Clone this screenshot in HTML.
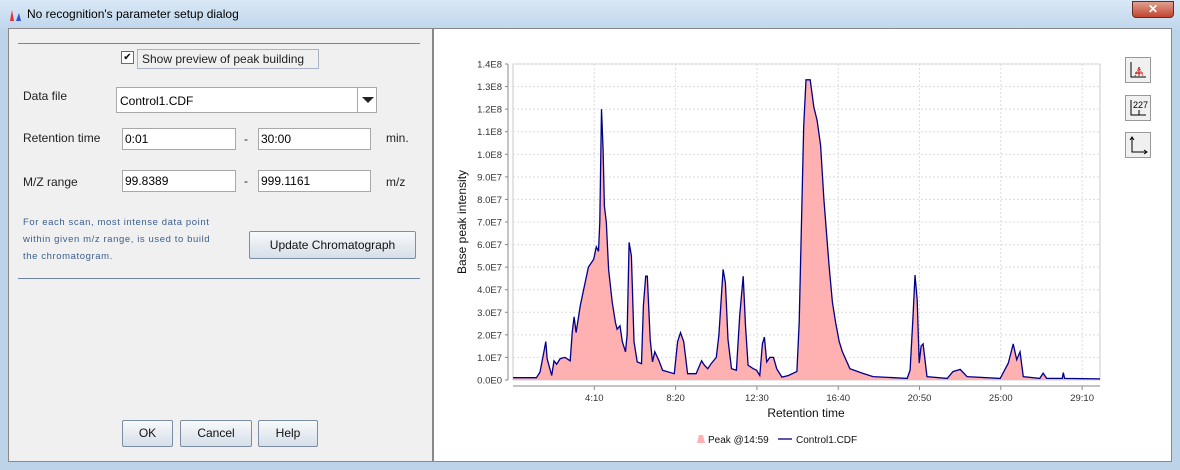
<!DOCTYPE html>
<html><head><meta charset="utf-8">
<style>
*{box-sizing:border-box}
body{margin:0;width:1180px;height:470px;overflow:hidden;font-family:"Liberation Sans",sans-serif;background:#bcd3e8;position:relative}
.abs{position:absolute}
#titlebar{left:0;top:0;width:1180px;height:30px;background:linear-gradient(#d9e8f6,#bfd6ec);}
#title{left:27px;top:7px;font-size:12px;color:#000}
#close{left:1132px;top:1px;width:42px;height:17px;border-radius:0 0 4px 4px;background:linear-gradient(#e0a090,#c2452f);border:1px solid #6b2a20;color:#fff;font-weight:bold;font-size:12px;text-align:center;line-height:15px}
#left{left:8px;top:28px;width:425px;height:434px;background:#f0f0f0;border:1px solid #888}
#right{left:433px;top:28px;width:739px;height:434px;background:#fff;border:1px solid #888}
.sep{height:1px;background:#6d86a8;left:18px;width:402px}
.lbl{font-size:12px;color:#222}
.inp{background:#fff;border:1px solid #a8a8a8;font-size:12px;padding:2px 2px;height:22px;line-height:16px}
.btn{border:1px solid #7b8ea6;border-radius:2px;background:linear-gradient(#f8fafc,#d6dee8);font-size:12px;text-align:center;color:#111}
.blue{font-size:9.5px;color:#3a5f8f;letter-spacing:0.6px}
.ib{width:26px;height:26px;border:1px solid #999;background:#f0f0f0}
</style></head><body>
<div class="abs" id="titlebar"></div>
<svg class="abs" style="left:9px;top:9px" width="14" height="12"><path d="M1 12 L3 1 L5 12Z" fill="#e03030"/><path d="M7 12 L10 4 L12 12Z" fill="#3050e0"/></svg>
<div class="abs" id="title">No recognition's parameter setup dialog</div>
<div class="abs" id="close">✕</div>

<div class="abs" id="left"></div>
<div class="abs sep" style="top:43px"></div>
<div class="abs" style="left:121px;top:51px;width:13px;height:13px;border:1px solid #5a6e8a;background:#fff;font-size:10px;line-height:11px;text-align:center">✔</div>
<div class="abs lbl" style="left:137px;top:49px;width:182px;height:20px;border:1px solid #a8b4c4;padding:2px 4px">Show preview of peak building</div>
<div class="abs lbl" style="left:23px;top:89px">Data file</div>
<div class="abs inp" style="left:116px;top:87px;width:261px;height:26px;padding:5px 3px">Control1.CDF</div>
<div class="abs" style="left:357px;top:88px;width:19px;height:24px;border-left:1px solid #a8a8a8;background:#fff"><div style="margin:9px 0 0 4px;width:0;height:0;border-left:6px solid transparent;border-right:6px solid transparent;border-top:6px solid #222"></div></div>
<div class="abs lbl" style="left:23px;top:131px">Retention time</div>
<div class="abs inp" style="left:122px;top:128px;width:114px">0:01</div>
<div class="abs lbl" style="left:244px;top:132px">-</div>
<div class="abs inp" style="left:258px;top:128px;width:113px">30:00</div>
<div class="abs lbl" style="left:386px;top:131px">min.</div>
<div class="abs lbl" style="left:23px;top:175px">M/Z range</div>
<div class="abs inp" style="left:122px;top:170px;width:114px">99.8389</div>
<div class="abs lbl" style="left:244px;top:174px">-</div>
<div class="abs inp" style="left:258px;top:170px;width:113px">999.1161</div>
<div class="abs lbl" style="left:386px;top:175px">m/z</div>
<div class="abs blue" style="left:23px;top:214px;line-height:17px">For each scan, most intense data point<br>within given m/z range, is used to build<br>the chromatogram.</div>
<div class="abs btn" style="left:249px;top:231px;width:167px;height:28px;line-height:26px">Update Chromatograph</div>
<div class="abs sep" style="top:278px"></div>
<div class="abs btn" style="left:122px;top:420px;width:51px;height:27px;line-height:25px">OK</div>
<div class="abs btn" style="left:180px;top:420px;width:72px;height:27px;line-height:25px">Cancel</div>
<div class="abs btn" style="left:258px;top:420px;width:60px;height:27px;line-height:25px">Help</div>

<div class="abs" id="right"></div>
<div class="abs ib" style="left:1125px;top:57px"><svg width="24" height="24"><path d="M5 4V19H20" stroke="#000" fill="none"/><path d="M9 18L13 9L17 18" stroke="#c00" fill="none" stroke-dasharray="1 1"/><path d="M13 9V18M9 15H17" stroke="#c00"/></svg></div>
<div class="abs ib" style="left:1125px;top:95px"><svg width="24" height="24"><path d="M5 4V19H20M13 14V19" stroke="#000" fill="none"/><text x="7" y="12" font-size="9" font-family="Liberation Sans">227</text></svg></div>
<div class="abs ib" style="left:1125px;top:132px"><svg width="24" height="24"><path d="M6 4V19H21M4 7L6 4L8 7M18 17L21 19L18 21" stroke="#000" fill="none"/></svg></div>

<svg class="abs" id="chart" style="left:0;top:0" width="1180" height="470"></svg>
<script>
const times=[0,72,83,95,101,105,119,126,134,145,160,176,182,188,194,207,217,232,248,256,263,267,272,277,281,287,294,305,315,320,329,336,346,351,357,364,372,382,395,401,408,413,422,429,436,444,449,460,496,506,515,525,537,563,580,589,599,609,625,633,646,653,661,672,687,697,708,715,723,739,749,759,767,773,780,790,801,811,827,847,873,880,887,894,901,914,925,935,946,956,972,982,992,1003,1013,1036,1075,1107,1212,1221,1230,1236,1243,1249,1255,1261,1273,1335,1353,1375,1396,1498,1523,1538,1549,1559,1569,1620,1630,1641,1689,1692,1696,1805];
const intensities=[0.1,0.1,0.35,1.25,1.7,0.95,0.2,0.85,0.7,0.95,1.0,0.85,2.1,2.8,2.1,3.3,4.0,5.0,5.35,5.9,5.7,7.0,12.0,10.2,7.7,7.0,4.9,3.45,2.55,2.25,2.4,1.7,1.25,2.0,6.1,5.5,1.7,0.8,0.72,3.3,4.6,4.6,1.8,0.8,1.25,1.0,0.85,0.43,0.28,1.7,2.1,1.7,0.28,0.28,0.85,0.65,0.5,0.72,1.0,2.0,4.9,4.3,1.8,0.5,0.43,2.85,4.6,2.4,0.65,0.5,0.43,0.2,1.6,1.9,0.8,1.0,1.0,0.5,0.13,0.2,0.38,2.55,7.0,11.25,13.3,13.3,12.1,11.5,10.4,8.0,5.05,3.45,2.55,1.7,1.25,0.5,0.3,0.15,0.07,0.44,2.8,4.65,3.55,0.75,1.5,1.6,0.15,0.07,0.37,0.47,0.15,0.07,0.75,1.6,0.9,1.25,0.15,0.07,0.3,0.07,0.07,0.33,0.07,0.05];
const yTicks=[0,1,2,3,4,5,6,7,8,9,10,11,12,13,14];
const yTickLabels=["0.0E0","1.0E7","2.0E7","3.0E7","4.0E7","5.0E7","6.0E7","7.0E7","8.0E7","9.0E7","1.0E8","1.1E8","1.2E8","1.3E8","1.4E8"];
const xTicks=[250,500,750,1000,1250,1500,1750];
const xTickLabels=["4:10","8:20","12:30","16:40","20:50","25:00","29:10"];
const X0=513,X1=1100,Y0=380,Y1=64,TMAX=1805,VMAX=14;
const sx=t=>X0+t/TMAX*(X1-X0);
const sy=v=>Y0-v/VMAX*(Y0-Y1);
const svg=document.getElementById('chart');
const NS='http://www.w3.org/2000/svg';
function mk(tag,attrs,parent){const e=document.createElementNS(NS,tag);for(const k in attrs)e.setAttribute(k,attrs[k]);(parent||svg).appendChild(e);return e;}
const plot=mk('rect',{x:X0,y:Y1,width:X1-X0,height:Y0-Y1,fill:'#fff',stroke:'#c8c8c8'});


yTicks.forEach((v,i)=>{
  const g=mk('line',{x1:X0,x2:X1,y1:sy(v),y2:sy(v),stroke:'#dcdcdc','stroke-dasharray':'2 2'});
  
  
  mk('line',{x1:505,x2:508,y1:sy(v),y2:sy(v),stroke:'#888'});
  const t=mk('text',{x:502,y:sy(v)+3.5,'text-anchor':'end','font-size':'9.5','font-family':'Liberation Sans',fill:'#333'});
  t.textContent=yTickLabels[i];
  
  
});
xTicks.forEach((tv,i)=>{
  const g=mk('line',{x1:sx(tv),x2:sx(tv),y1:Y1,y2:Y0,stroke:'#dcdcdc','stroke-dasharray':'2 2'});
  
  
  mk('line',{x1:sx(tv),x2:sx(tv),y1:386,y2:390,stroke:'#888'});
  const t=mk('text',{x:sx(tv),y:401,'text-anchor':'middle','font-size':'9.5','font-family':'Liberation Sans',fill:'#333'});
  t.textContent=xTickLabels[i];
  
  
});
const ax=mk('line',{x1:X0,x2:X1,y1:386,y2:386,stroke:'#888'});


const ay=mk('line',{x1:508,x2:508,y1:Y1,y2:Y0,stroke:'#888'});


let d='M'+sx(times[0])+','+sy(0);
times.forEach((t,i)=>{d+=' L'+sx(t).toFixed(1)+','+sy(intensities[i]).toFixed(1);});
const area=mk('path',{d:d+' L'+sx(times[times.length-1])+','+sy(0)+'Z',fill:'#ffb0b0'});


let ld='';
times.forEach((t,i)=>{ld+=(i?' L':'M')+sx(t).toFixed(1)+','+sy(intensities[i]).toFixed(1);});
const line=mk('path',{d:ld,fill:'none',stroke:'#00008b','stroke-width':'1.3'});


const yt=mk('text',{x:0,y:0,transform:'translate(466,222) rotate(-90)','text-anchor':'middle','font-size':'12','font-family':'Liberation Sans',fill:'#111'});
yt.textContent='Base peak intensity';


const xt=mk('text',{x:806,y:417,'text-anchor':'middle','font-size':'12','font-family':'Liberation Sans',fill:'#111'});
xt.textContent='Retention time';


const sw=mk('path',{d:'M697 443 L699 435 L703 435 L705 443Z',fill:'#ffb0b0'});


const l1=mk('text',{x:708,y:443,'font-size':'10','font-family':'Liberation Sans',fill:'#111'});
l1.textContent='Peak @14:59';


mk('line',{x1:778,x2:792,y1:439,y2:439,stroke:'#00008b','stroke-width':'1.3'});
const l2=mk('text',{x:796,y:443,'font-size':'10','font-family':'Liberation Sans',fill:'#111'});
l2.textContent='Control1.CDF';


</script>
</body></html>
